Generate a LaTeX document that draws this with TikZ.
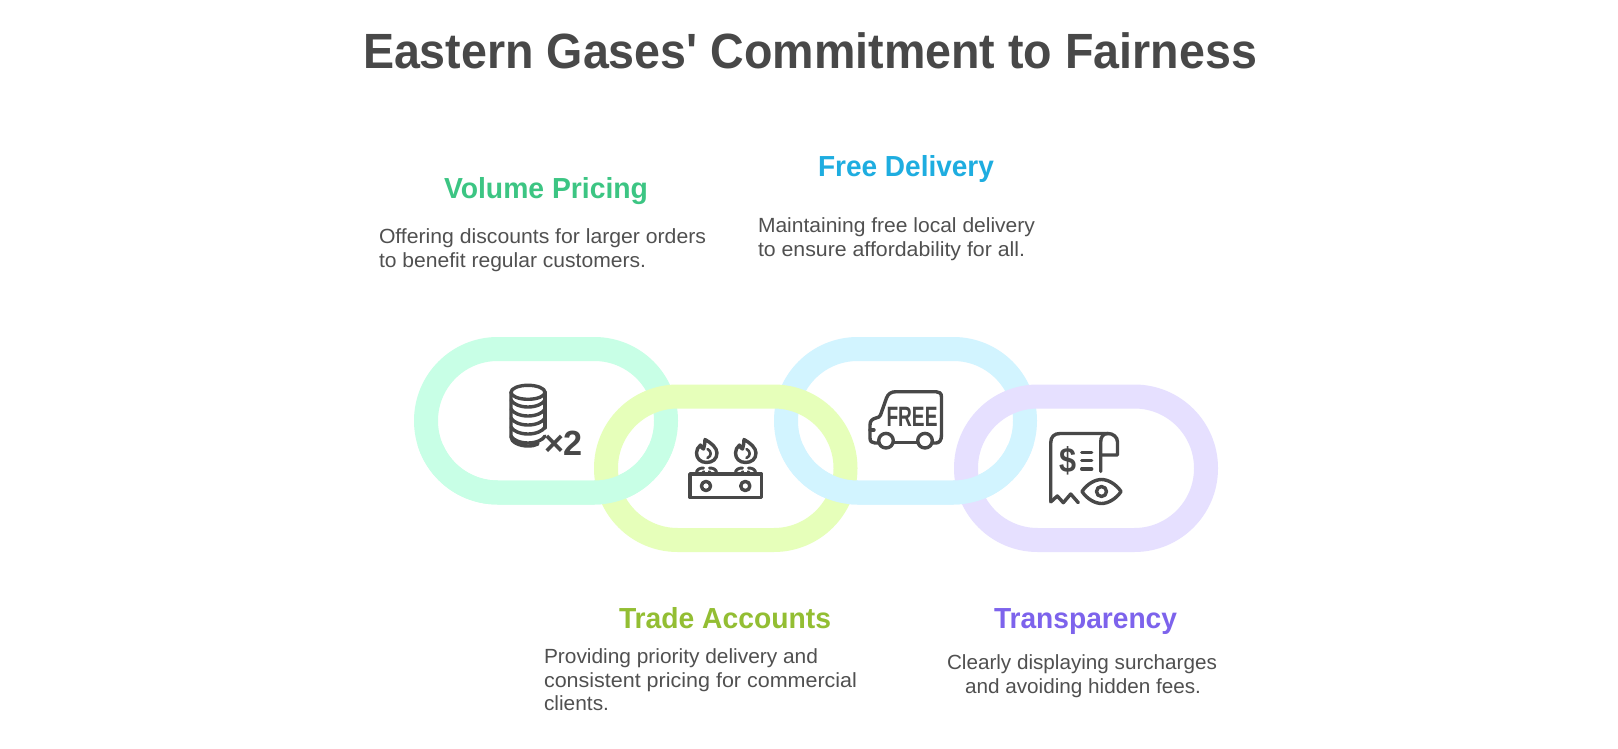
\documentclass[tikz,border=0pt]{standalone}
\usepackage{fontspec}
\usepackage{graphicx}
\setmainfont{Liberation Sans}
\newfontfamily\straightfont{Liberation Sans}
\definecolor{ink}{HTML}{484848}
\definecolor{bodyink}{HTML}{505050}
\definecolor{ringG}{HTML}{C8FFE6}
\definecolor{ringY}{HTML}{E6FFBA}
\definecolor{ringB}{HTML}{D2F4FF}
\definecolor{ringP}{HTML}{E6E0FF}
\definecolor{headG}{HTML}{3CC583}
\definecolor{headB}{HTML}{1EADE0}
\definecolor{headY}{HTML}{93BE33}
\definecolor{headP}{HTML}{7D63EC}
\newcommand{\fitw}[2]{\resizebox{#1pt}{\height}{#2}}
\tikzset{
  ringline/.style={line width=24pt,rounded corners=71.6pt},
  lbl/.style={anchor=base west,inner sep=0pt,outer sep=0pt},
  titletext/.style={lbl,text=ink,font=\fontsize{49.5}{49.5}\selectfont\straightfont\bfseries},
  headtext/.style={lbl,font=\fontsize{29}{29}\selectfont\bfseries},
  bodytext/.style={lbl,text=bodyink,font=\fontsize{20.5}{20.5}\selectfont},
  icon/.style={draw=ink,line width=3.4pt,line cap=round,line join=round},
}
\newcommand{\flame}[1]{%
  \begin{scope}[shift={(#1,0)}]
    \draw[icon] (-1.5,439.5) .. controls (5,443) and (10.5,448) .. (10.5,453)
      .. controls (10.5,459) and (6,462.5) .. (0,462.5)
      .. controls (-6,462.5) and (-10,458.5) .. (-10,453)
      .. controls (-10,450) and (-8.5,447) .. (-6,445)
      .. controls (-5.5,447) and (-4.5,448.5) .. (-3,449)
      .. controls (-2,446) and (-1.5,443) .. (-1.5,439.5) -- cycle;
    \draw[icon,line width=2.6pt] (1,449) .. controls (5,451) and (5.5,456) .. (1,458);
    \draw[icon,line width=3pt] (-10,473) .. controls (-10,469.5) and (-7,468) .. (-3,468);
    \draw[icon,line width=3pt] (10,473) .. controls (10,469.5) and (7,468) .. (3,468);
    \draw[icon,line width=2.6pt] (-4,473) -- (-2.5,471.5);
    \draw[icon,line width=2.6pt] (4,473) -- (2.5,471.5);
  \end{scope}}
\begin{document}
\begin{tikzpicture}[x=1pt,y=-1pt]
\useasboundingbox (0,0) rectangle (1618,749);
\fill[white] (0,0) rectangle (1618,749);
% rings: interlocked, with each upper crossing won by the later ring
\draw[ringline,draw=ringG] (426,349) rectangle (666,492.5);
\draw[ringline,draw=ringB] (786,349) rectangle (1025,492.5);
\draw[ringline,draw=ringY] (606,396.5) rectangle (845.5,540);
\draw[ringline,draw=ringP] (966,396.5) rectangle (1206,540);
\begin{scope}
  \clip (0,445) rectangle (1618,749);
  \draw[ringline,draw=ringG] (426,349) rectangle (666,492.5);
  \draw[ringline,draw=ringB] (786,349) rectangle (1025,492.5);
\end{scope}
% title
\node[titletext] (title) at (363,69) {\fitw{894}{Eastern Gases' Commitment to Fairness}};
% volume pricing
\node[headtext,text=headG] (vp) at (444,198) {\fitw{204}{Volume Pricing}};
\node[bodytext] (vp1) at (379,243) {\fitw{327}{Offering discounts for larger orders}};
\node[bodytext] (vp2) at (379,267) {\fitw{267}{to benefit regular customers.}};
% free delivery
\node[headtext,text=headB] (fd) at (818,176) {\fitw{176}{Free Delivery}};
\node[bodytext] (fd1) at (758,232) {\fitw{277}{Maintaining free local delivery}};
\node[bodytext] (fd2) at (758,256) {\fitw{267}{to ensure affordability for all.}};
% trade accounts
\node[headtext,text=headY] (ta) at (619,628) {\fitw{212}{Trade Accounts}};
\node[bodytext] (ta1) at (544,663) {\fitw{274}{Providing priority delivery and}};
\node[bodytext] (ta2) at (544,687) {\fitw{313}{consistent pricing for commercial}};
\node[bodytext] (ta3) at (544,710) {\fitw{65}{clients.}};
% transparency
\node[headtext,text=headP] (tr) at (994,628) {\fitw{183}{Transparency}};
\node[bodytext] (tr1) at (947,669) {\fitw{270}{Clearly displaying surcharges}};
\node[bodytext] (tr2) at (965,693) {\fitw{236}{and avoiding hidden fees.}};
% coins icon
\draw[icon] (528,392.3) ellipse [x radius=17,y radius=7];
\draw[icon] (511,392.3) -- (511,437) .. controls (511,442) and (519,446) .. (528,446) .. controls (532,446) and (535,445.5) .. (538,444);
\draw[icon] (545,392.3) -- (545,428);
\foreach \yy in {400,409,418,427,436}{
  \draw[icon] (511,\yy) .. controls (513,\yy+4) and (520,\yy+7) .. (528,\yy+7) .. controls (536,\yy+7) and (543,\yy+4) .. (545,\yy);
}
\node[lbl,text=ink,font=\fontsize{35}{35}\selectfont\bfseries] (times) at (544,455.5) {\fitw{39}{×2}};
% stove icon
\draw[icon] (690,474) rectangle (761.5,497.5);
\draw[icon] (706,486) circle [radius=4.6];
\draw[icon] (745.3,486) circle [radius=4.6];
\flame{706.5}
\flame{745.5}
% van icon
\draw[icon] (941.5,435) -- (941.5,397) .. controls (941.5,393) and (939,391.7) .. (936,391.7)
  -- (896,391.7) .. controls (891,391.7) and (888,394) .. (886.5,398)
  -- (880.5,415) .. controls (880,417) and (878,417.5) .. (876,418)
  .. controls (872,419) and (870,421) .. (870,425)
  -- (870,438) .. controls (870,441.5) and (872,443) .. (875,443) -- (878.5,443);
\draw[icon] (893.5,442.3) -- (917.5,442.3);
\draw[icon] (932.5,443) -- (936,443) .. controls (939.5,443) and (941.5,440) .. (941.5,435);
\draw[icon] (886,440.7) circle [radius=7.3];
\draw[icon] (925,440.7) circle [radius=7.3];
\draw[icon] (870,430) -- (874,430);
\node[lbl,text=ink,font=\fontsize{28}{28}\selectfont\bfseries] (free) at (886.5,426) {\fitw{51}{FREE}};
% receipt icon
\draw[icon] (1050.7,501.5) -- (1050.7,443) .. controls (1050.7,437) and (1054,433.5) .. (1060,433.5) -- (1108,433.5)
  .. controls (1113,433.5) and (1117.5,437) .. (1117.5,442) -- (1117.5,455) -- (1100.7,455);
\draw[icon] (1108,433.5) .. controls (1103,433.5) and (1100.7,437) .. (1100.7,442) -- (1100.7,471.5);
\draw[icon] (1050.7,502) -- (1057.3,496) -- (1063.3,502.7) -- (1070.7,494) -- (1078.3,502.7);
\draw[icon] (1081.7,452.3) -- (1091.7,452.3);
\draw[icon] (1081.7,460.7) -- (1091.7,460.7);
\draw[icon] (1081.7,469) -- (1091.7,469);
\node[lbl,text=ink,font=\fontsize{35}{35}\selectfont\bfseries] (dollar) at (1059.5,472) {\fitw{17}{\$}};
\draw[icon] (1082,491.5) .. controls (1087,484) and (1095,479.5) .. (1101.5,479.5)
  .. controls (1108,479.5) and (1116,484) .. (1121,491.5)
  .. controls (1116,499) and (1108,503.5) .. (1101.5,503.5)
  .. controls (1095,503.5) and (1087,499) .. (1082,491.5) -- cycle;
\draw[icon] (1101.5,491.5) circle [radius=5];
\end{tikzpicture}
\end{document}
